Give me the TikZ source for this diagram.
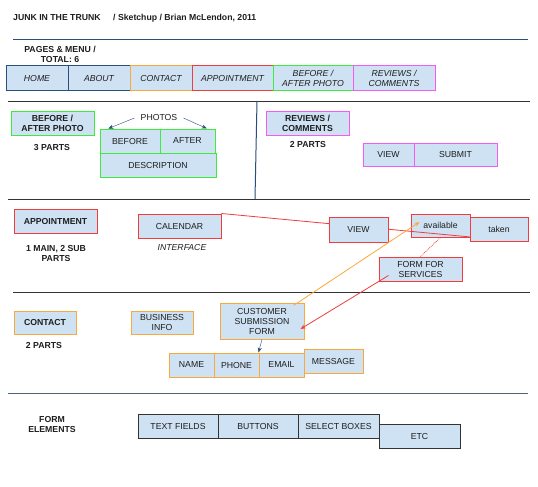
\documentclass[tikz,border=0pt]{standalone}
\usepackage{fontspec}
\setmainfont{Liberation Sans}
\usetikzlibrary{arrows.meta,calc}

\definecolor{boxfill}{HTML}{CFE2F3}
\definecolor{navy}{HTML}{2B4E7A}
\definecolor{orng}{HTML}{F9A93B}
\definecolor{rd}{HTML}{F03C3C}
\definecolor{grn}{HTML}{3CEB3C}
\definecolor{mgnt}{HTML}{F55AF5}
\definecolor{ink}{HTML}{1E1E1E}
\definecolor{rule}{HTML}{333333}

\begin{document}
\begin{tikzpicture}[x=1pt, y=-1pt, text=ink,
    font=\fontsize{8.7}{10}\selectfont,
    box/.style={draw, fill=boxfill, line width=1pt, align=center,
                inner sep=1pt, text depth=0pt, minimum height=24pt},
    menu/.style={box, font=\fontsize{8.7}{10}\selectfont\itshape},
    head/.style={box, font=\fontsize{8.7}{10}\selectfont\bfseries},
    tag/.style={align=center, inner sep=0pt,
                font=\fontsize{8.7}{10}\selectfont\bfseries},
    sep/.style={rule, line width=1pt},
    tip/.style={-{Stealth[length=5pt,width=4pt]}}]

    \useasboundingbox[fill=white] (0,0) rectangle (538,487);

    % title and rules
    \node[tag, anchor=west] (title)  at (13,18)  {JUNK IN THE TRUNK};
    \node[tag, anchor=west] (credit) at (113,18) {/ Sketchup / Brian McLendon, 2011};
    \draw[navy, line width=1pt] (13,40) -- (528,40);
    \foreach \y/\a/\b in {101/8/530, 199/8/530, 292/13/530} {
            \draw[sep] (\a,\y) -- (\b,\y);
        }
    \draw[navy!60!gray, line width=1pt] (8,393) -- (528,393);
    \draw[navy, line width=1pt] (257,101) -- (255,199);

    % pages and menu
    \node[tag] (pagestag) at (60,54) {PAGES \& MENU /\\TOTAL: 6};
    \node[menu, draw=navy, minimum width=62pt] (home)    at (37,78)    {HOME};
    \node[menu, draw=navy, minimum width=62pt] (about)   at (99,78)    {ABOUT};
    \node[menu, draw=orng, minimum width=62pt] (contact) at (161,78)   {CONTACT};
    \node[menu, draw=rd,   minimum width=81pt] (appoint) at (232.5,78) {APPOINTMENT};
    \node[menu, draw=grn,  minimum width=80pt] (beforeafter) at (313,78) {BEFORE /\\AFTER PHOTO};
    \node[menu, draw=mgnt, minimum width=82pt] (reviews) at (394,78)   {REVIEWS /\\COMMENTS};

    % before / after photo
    \node[head, draw=grn, minimum width=83pt] (photohead) at (52.5,123) {BEFORE /\\AFTER PHOTO};
    \node[tag] (photoparts) at (52,148) {3 PARTS};
    \node[inner sep=6pt] (photos) at (159,118) {PHOTOS};
    \node[box, draw=grn, minimum width=60pt]  (before) at (130,141)   {BEFORE};
    \node[box, draw=grn, minimum width=55pt]  (after)  at (187.5,141) {AFTER};
    \node[box, draw=grn, minimum width=116pt] (descr)  at (158,165)   {DESCRIPTION};
    \draw[navy, tip] (photos.west) -- (before.150);
    \draw[navy, tip] (photos.east) -- (after.33);

    % reviews / comments
    \node[head, draw=mgnt, minimum width=83pt] (revhead) at (307.5,123) {REVIEWS /\\COMMENTS};
    \node[tag] (revparts) at (308,145) {2 PARTS};
    \node[box, draw=mgnt, minimum width=51pt, minimum height=23pt] (revview) at (388.5,154.5) {VIEW};
    \node[box, draw=mgnt, minimum width=83pt, minimum height=23pt] (submit)  at (455.5,154.5) {SUBMIT};

    % appointment
    \node[head, draw=rd, minimum width=83pt] (apphead) at (55.5,221) {APPOINTMENT};
    \node[tag] (appparts) at (56,254) {1 MAIN, 2 SUB\\PARTS};
    \node[box, draw=rd, minimum width=83pt] (calendar) at (179.5,226) {CALENDAR};
    \node[font=\fontsize{8.7}{10}\selectfont\itshape] (iface) at (182,248) {INTERFACE};
    \node[box, draw=rd, minimum width=59pt, minimum height=23pt] (available) at (440.5,225.5) {available};
    \node[box, draw=rd, minimum width=58pt] (taken) at (499,229) {taken};
    \draw[rd, line width=0.8pt] (calendar.north east) -- (taken.195);
    \node[box, draw=rd, minimum width=59pt, minimum height=25pt] (appview) at (358.5,229.5) {VIEW};
    \node[box, draw=rd, minimum width=83pt] (formsvc) at (420.5,269) {FORM FOR\\SERVICES};
    \draw[rd, densely dotted, line width=0.8pt] (available.south) -- (formsvc.north);

    % contact
    \node[head, draw=orng, minimum width=62pt, minimum height=23pt] (conthead) at (45,322.5) {CONTACT};
    \node[tag] (contparts) at (44,346) {2 PARTS};
    \node[box, draw=orng, minimum width=62pt, minimum height=23pt] (business) at (162,322.5) {BUSINESS\\INFO};
    \node[box, draw=orng, minimum width=84pt, minimum height=36pt] (custform) at (262,321) {CUSTOMER\\SUBMISSION\\FORM};
    \node[box, draw=orng, minimum width=45pt] (name)    at (191.5,365) {NAME};
    \node[box, draw=orng, minimum width=45pt] (phone)   at (236.5,365) {PHONE};
    \node[box, draw=orng, minimum width=45pt] (email)   at (281.5,365) {EMAIL};
    \node[box, draw=orng, minimum width=59pt] (message) at (333.5,361) {MESSAGE};
    \draw[navy, tip] (custform.south) -- (email.north west);
    \draw[orng, line width=0.8pt, tip] ($(custform.north east)+(-11,3)$) -- ($(available.west)+(9,-3.5)$);
    \draw[rd, line width=0.8pt, tip] ($(formsvc.south west)+(10,-6)$) -- ($(custform.east)+(-4,8)$);

    % form elements
    \node[tag] (formtag) at (52,425) {FORM\\ELEMENTS};
    \node[box, draw=rule, minimum width=80pt] (textfields) at (178,426)   {TEXT FIELDS};
    \node[box, draw=rule, minimum width=80pt] (buttons)    at (258,426)   {BUTTONS};
    \node[box, draw=rule, minimum width=81pt] (selects)    at (338.5,426) {SELECT BOXES};
    \node[box, draw=rule, minimum width=81pt] (etc)        at (419.5,436) {ETC};
\end{tikzpicture}
\end{document}
